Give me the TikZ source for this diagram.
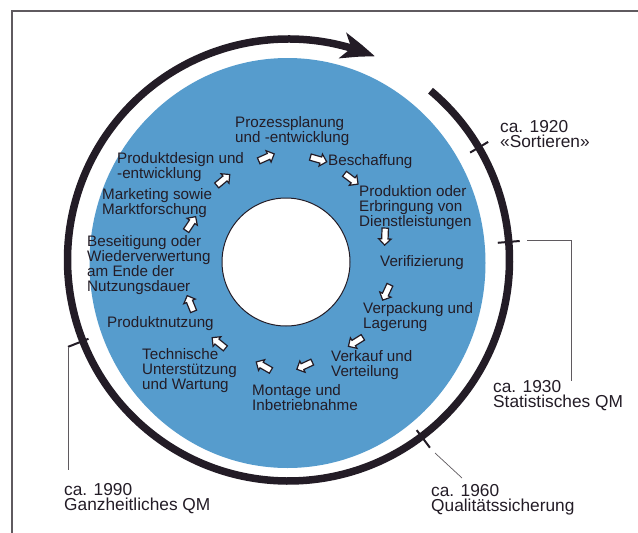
\documentclass[tikz,border=0pt]{standalone}
\usepackage{fontspec}
\setmainfont{Liberation Sans}
\usetikzlibrary{arrows.meta,bending,shapes.arrows,calc}
\definecolor{disk}{RGB}{86,156,205}
\definecolor{ink}{RGB}{35,28,38}
\definecolor{rulegray}{RGB}{95,90,95}
\begin{document}
\begin{tikzpicture}[x=1pt,y=-1pt,
  inner/.style={anchor=north west, inner sep=0pt, align=left, text=ink,
    font=\fontsize{15.2}{15}\selectfont},
  era/.style={anchor=north west, inner sep=0pt, align=left, text=ink,
    font=\fontsize{17.3}{15.7}\selectfont},
  harrow/.style={single arrow, draw=ink, fill=white, line width=1.2pt,
    minimum height=17pt, minimum width=12pt, inner sep=2.6pt,
    single arrow head extend=3pt, anchor=center},
  ringline/.style={line width=7.5pt, draw=ink},
  tick/.style={line width=2pt, draw=ink},
  leader/.style={line width=0.7pt, draw=rulegray},
  frameline/.style={line width=1.1pt, draw=rulegray}]
\useasboundingbox (0,0) rectangle (638,533);
\fill[white] (0,0) rectangle (638,533);
% frame
\draw[frameline] (12,533) -- (12,11) -- (638,11);
% disk
\fill[disk] (287.5,263) ellipse[x radius=198pt, y radius=205pt];
\filldraw[fill=white, draw=ink, line width=1pt] (286,262) circle[radius=64pt];
% ring with arrow
\coordinate (rc) at (288.5,260);
\draw[ringline, -{Stealth[length=34pt,width=26pt,inset=9pt,bend]}]
  ($(rc)+(50:221pt)$) arc[start angle=50, end angle=-293, radius=221pt];
% ticks
\coordinate (t1a) at ($(rc)+(30.6:211pt)$); \coordinate (t1b) at ($(rc)+(30.6:232pt)$);
\coordinate (t2a) at ($(rc)+(4.7:210pt)$);  \coordinate (t2b) at ($(rc)+(4.7:232pt)$);
\coordinate (t3a) at ($(rc)+(-53:213pt)$);  \coordinate (t3b) at ($(rc)+(-53:235pt)$);
\coordinate (t4a) at ($(rc)+(201.5:215pt)$); \coordinate (t4b) at ($(rc)+(201.5:237pt)$);
\draw[tick] (t1a) -- (t1b);
\draw[tick] (t2a) -- (t2b);
\draw[tick] (t3a) -- (t3b);
\draw[tick] (t4a) -- (t4b);
% era labels
\node[era] (e1920) at (500,120) {ca. 1920\\«Sortieren»};
\node[era] (e1930) at (493,380) {ca. 1930\\Statistisches QM};
\node[era] (e1960) at (431,484) {ca. 1960\\Qualitätssicherung};
\node[era] (e1990) at (64,483) {ca. 1990\\Ganzheitliches QM};
% leaders
\coordinate (l2a) at (527,240); \coordinate (l2b) at (571,240); \coordinate (l2c) at (571,381);
\draw[leader] (l2a) -- (l2b) -- (l2c);
\coordinate (l3a) at (435,453); \coordinate (l3b) at (462,478);
\draw[leader] (l3a) -- (l3b);
\coordinate (l4a) at (68,348); \coordinate (l4b) at (68,470);
\draw[leader] (l4a) -- (l4b);
% inner texts
\node[inner] (proz) at (235,116) {Prozessplanung\\und -entwicklung};
\node[inner] (besch) at (328,154) {Beschaffung};
\node[inner] (prod) at (359,185) {Produktion oder\\Erbringung von\\Dienstleistungen};
\node[inner] (veri) at (380,255) {Verifizierung};
\node[inner] (verp) at (363,302) {Verpackung und\\Lagerung};
\node[inner] (verk) at (331,350) {Verkauf und\\Verteilung};
\node[inner] (mont) at (252,384) {Montage und\\Inbetriebnahme};
\node[inner] (tech) at (142,348) {Technische\\Unterstützung\\und Wartung};
\node[inner] (nutz) at (107,316) {Produktnutzung};
\node[inner] (beseit) at (87,235) {Beseitigung oder\\Wiederverwertung\\am Ende der\\Nutzungsdauer};
\node[inner] (mark) at (102,188) {Marketing sowie\\Marktforschung};
\node[inner] (pdes) at (117,152) {Produktdesign und\\-entwicklung};
% hollow arrows
\node[harrow, rotate=24] (a1) at (265,158) {};
\node[harrow, rotate=-16] (a2) at (317,159) {};
\node[harrow, rotate=-37] (a3) at (350,178) {};
\node[harrow, rotate=-92] (a4) at (385,235) {};
\node[harrow, rotate=-115] (a5) at (387,291) {};
\node[harrow, rotate=-148] (a6) at (357,341) {};
\node[harrow, rotate=-155] (a7) at (306,365) {};
\node[harrow, rotate=150] (a8) at (265,367) {};
\node[harrow, rotate=141] (a9) at (220,344) {};
\node[harrow, rotate=112] (a10) at (191,305) {};
\node[harrow, rotate=56] (a11) at (190,225) {};
\node[harrow, rotate=40] (a12) at (222,181) {};
\end{tikzpicture}
\end{document}
